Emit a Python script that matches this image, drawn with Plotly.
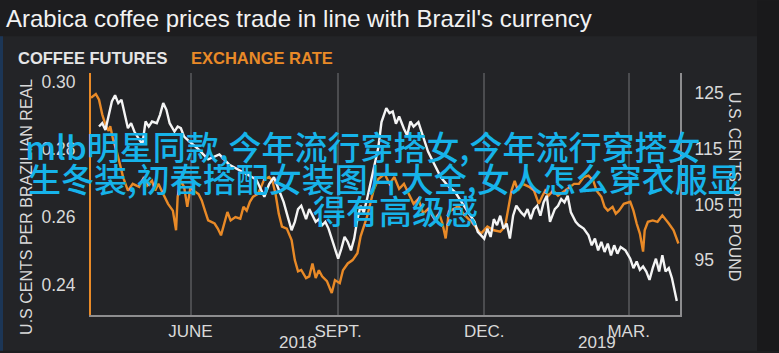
import plotly.graph_objects as go

# ---------------- data ----------------
fx_dates = ["2018-03-31","2018-04-03","2018-04-05","2018-04-07","2018-04-09","2018-04-11","2018-04-12","2018-04-14",
            "2018-04-16","2018-04-18","2018-04-20","2018-04-23","2018-04-26","2018-04-30","2018-05-03","2018-05-05",
            "2018-05-08","2018-05-10","2018-05-12","2018-05-15","2018-05-18","2018-05-21","2018-05-23","2018-05-24",
            "2018-05-26","2018-05-28","2018-05-30","2018-06-01","2018-06-03","2018-06-06","2018-06-08","2018-06-10",
            "2018-06-12","2018-06-16","2018-06-18","2018-06-20","2018-06-22","2018-06-24","2018-06-26","2018-06-29",
            "2018-07-02","2018-07-04","2018-07-06","2018-07-08","2018-07-10","2018-07-13","2018-07-15","2018-07-17",
            "2018-07-20","2018-07-22","2018-07-24","2018-07-26","2018-07-28","2018-07-31","2018-08-03","2018-08-05",
            "2018-08-07","2018-08-09","2018-08-12","2018-08-14","2018-08-16","2018-08-18","2018-08-20","2018-08-22",
            "2018-08-25","2018-08-28","2018-08-30","2018-09-02","2018-09-04","2018-09-07","2018-09-10","2018-09-13",
            "2018-09-15","2018-09-17","2018-09-19","2018-09-21","2018-09-23","2018-09-26","2018-09-30","2018-10-03",
            "2018-10-06","2018-10-09","2018-10-12","2018-10-15","2018-10-18","2018-10-21","2018-10-24","2018-10-27",
            "2018-10-31","2018-11-03","2018-11-05","2018-11-07","2018-11-09","2018-11-12","2018-11-15","2018-11-18",
            "2018-11-21","2018-11-24","2018-11-29","2018-12-03","2018-12-07","2018-12-11","2018-12-14","2018-12-16",
            "2018-12-18","2018-12-20","2018-12-22","2018-12-25","2018-12-29","2019-01-01","2019-01-04","2019-01-06",
            "2019-01-08","2019-01-10","2019-01-13","2019-01-16","2019-01-20","2019-01-23","2019-01-26","2019-01-29",
            "2019-02-01","2019-02-04","2019-02-07","2019-02-09","2019-02-12","2019-02-14","2019-02-16","2019-02-19",
            "2019-02-21","2019-02-23","2019-02-26","2019-03-02","2019-03-04","2019-03-06","2019-03-08","2019-03-10",
            "2019-03-11","2019-03-13","2019-03-16","2019-03-19","2019-03-22","2019-03-26","2019-03-29","2019-04-01"]
fx_values = [0.2952,0.2963,0.2946,0.2903,0.2873,0.2854,0.2868,0.2824,
             0.2795,0.2756,0.2718,0.2678,0.2698,0.2689,0.2718,0.2693,
             0.2707,0.2678,0.2698,0.2668,0.2639,0.2619,0.2561,0.2660,
             0.2707,0.2689,0.2630,0.2689,0.2678,0.2668,0.2649,0.2619,
             0.2590,0.2581,0.2566,0.2546,0.2581,0.2615,0.2590,0.2600,
             0.2595,0.2630,0.2619,0.2645,0.2660,0.2668,0.2689,0.2712,
             0.2718,0.2707,0.2668,0.2610,0.2572,0.2566,0.2532,0.2473,
             0.2440,0.2444,0.2420,0.2425,0.2463,0.2420,0.2443,0.2425,
             0.2411,0.2376,0.2414,0.2405,0.2443,0.2463,0.2473,0.2493,
             0.2543,0.2572,0.2601,0.2639,0.2678,0.2712,0.2727,0.2698,
             0.2718,0.2683,0.2698,0.2668,0.2639,0.2654,0.2610,0.2624,
             0.2595,0.2610,0.2581,0.2537,0.2616,0.2624,0.2633,0.2610,
             0.2595,0.2581,0.2551,0.2572,0.2561,0.2557,0.2572,0.2630,
             0.2678,0.2707,0.2678,0.2698,0.2689,0.2678,0.2639,0.2660,
             0.2678,0.2663,0.2678,0.2663,0.2678,0.2689,0.2698,0.2698,
             0.2718,0.2722,0.2707,0.2678,0.2660,0.2630,0.2619,0.2630,
             0.2610,0.2619,0.2639,0.2645,0.2619,0.2581,0.2551,0.2498,
             0.2561,0.2586,0.2590,0.2586,0.2605,0.2581,0.2561,0.2522]

coffee_dates = ["2018-04-05","2018-04-07","2018-04-09","2018-04-11","2018-04-13","2018-04-15","2018-04-17","2018-04-19",
                "2018-04-21","2018-04-23","2018-04-25","2018-04-27","2018-04-30","2018-05-02","2018-05-04","2018-05-06",
                "2018-05-08","2018-05-11","2018-05-13","2018-05-15","2018-05-17","2018-05-19","2018-05-22","2018-05-24",
                "2018-05-26","2018-05-28","2018-05-31","2018-06-06","2018-06-12","2018-06-19","2018-06-25","2018-07-01",
                "2018-07-07","2018-07-12","2018-07-17","2018-07-20","2018-07-23","2018-07-26","2018-07-29","2018-08-01",
                "2018-08-03","2018-08-05","2018-08-07","2018-08-09","2018-08-12","2018-08-14","2018-08-16","2018-08-18",
                "2018-08-20","2018-08-22","2018-08-24","2018-08-26","2018-08-28","2018-09-01","2018-09-03","2018-09-05",
                "2018-09-07","2018-09-09","2018-09-11","2018-09-13","2018-09-15","2018-09-17","2018-09-19","2018-09-21",
                "2018-09-24","2018-09-26","2018-09-28","2018-10-01","2018-10-03","2018-10-05","2018-10-07","2018-10-09",
                "2018-10-12","2018-10-14","2018-10-16","2018-10-18","2018-10-21","2018-10-23","2018-10-27","2018-10-31",
                "2018-11-04","2018-11-08","2018-11-13","2018-11-17","2018-11-21","2018-11-25","2018-11-27","2018-12-01",
                "2018-12-03","2018-12-05","2018-12-07","2018-12-09","2018-12-11","2018-12-13","2018-12-15","2018-12-17",
                "2018-12-19","2018-12-21","2018-12-24","2018-12-26","2018-12-28","2018-12-30","2019-01-01","2019-01-03",
                "2019-01-05","2019-01-07","2019-01-09","2019-01-11","2019-01-14","2019-01-16","2019-01-18","2019-01-20",
                "2019-01-22","2019-01-24","2019-01-27","2019-01-29","2019-02-01","2019-02-04","2019-02-06","2019-02-08",
                "2019-02-10","2019-02-12","2019-02-14","2019-02-16","2019-02-18","2019-02-20","2019-02-22","2019-02-24",
                "2019-02-27","2019-03-02","2019-03-04","2019-03-06","2019-03-08","2019-03-10","2019-03-12","2019-03-14",
                "2019-03-16","2019-03-18","2019-03-20","2019-03-22","2019-03-24","2019-03-26","2019-03-28","2019-03-31"]
coffee_values = [119.0,119.6,118.4,121.1,123.5,124.6,123.2,123.8,
                 121.1,118.7,119.6,118.1,116.7,115.8,119.9,119.0,
                 119.9,119.6,121.1,123.2,122.0,119.6,118.1,119.0,
                 118.7,117.2,116.4,114.9,113.1,114.0,112.2,111.3,
                 110.4,109.5,106.4,108.7,109.9,107.8,105.5,102.4,
                 100.4,101.9,104.2,104.8,102.4,104.2,103.0,101.9,
                 102.4,101.3,101.9,100.7,98.9,95.3,97.1,99.2,
                 98.3,96.8,98.9,102.4,104.8,103.6,106.0,108.7,
                 112.2,115.2,119.8,122.3,121.4,121.7,119.5,120.8,
                 118.6,117.4,119.9,119.0,119.8,117.9,114.5,112.2,
                 109.9,108.5,107.2,105.4,103.6,101.9,100.1,98.9,
                 100.7,99.2,102.4,101.3,103.0,100.7,101.6,98.9,
                 103.0,104.8,103.6,103.0,104.2,102.4,104.2,104.8,
                 103.0,105.4,106.6,101.9,104.2,104.8,106.0,105.4,
                 106.6,103.6,101.9,101.3,100.7,99.5,97.7,98.9,
                 96.8,98.3,96.5,98.0,95.9,97.7,96.2,97.4,
                 96.8,95.3,93.6,94.8,93.3,93.9,93.0,91.5,
                 93.6,95.3,93.0,95.9,93.0,93.6,91.8,87.7]

month_ticks = ["2018-06-01", "2018-09-01", "2018-12-01", "2019-03-01"]
month_labels = ["JUNE", "SEPT.", "DEC.", "MAR."]
year_ticks = ["2018-08-07", "2019-02-09"]
year_labels = ["2018", "2019"]
left_ticks = [0.24, 0.26, 0.28, 0.30]
left_labels = ["0.24", "0.26", "0.28", "0.30"]
right_ticks = [95, 105, 115, 125]
right_labels = ["95", "105", "115", "125"]

title_text = "Arabica coffee prices trade in line with Brazil's currency"
overlay_lines = ["mlb明星同款,今年流行穿搭女,今年流行穿搭女",
                 "生冬装,初春搭配女装图片大全,女人怎么穿衣服显",
                 "得有高级感"]

# ---------------- style ----------------
W, H = 779, 353
ML, MR, MT, MB = 91, 99, 73, 36
PW, PH = W - ML - MR, H - MT - MB
ORANGE = "#e98a27"
WHITE = "#f4f4f4"
TXT = "#d9d9d9"
FONT = "Liberation Sans, Arial, sans-serif"


def px(x):
    return (x - ML) / PW


def py(y):
    return (H - MB - y) / PH


fig = go.Figure()
fig.add_trace(go.Scatter(x=fx_dates, y=fx_values, mode="lines", name="EXCHANGE RATE",
                         line=dict(color=ORANGE, width=2.4), yaxis="y"))
fig.add_trace(go.Scatter(x=coffee_dates, y=coffee_values, mode="lines", name="COFFEE FUTURES",
                         line=dict(color=WHITE, width=2.4), yaxis="y2"))

annotations = [
    dict(text=title_text, x=px(4), y=py(18), xref="paper", yref="paper", xanchor="left", yanchor="middle",
         showarrow=False, font=dict(family=FONT, size=24, color="#f2f2f2")),
    dict(text="<b>COFFEE FUTURES</b>", x=px(16), y=py(58), xref="paper", yref="paper", xanchor="left",
         yanchor="middle", showarrow=False, font=dict(family=FONT, size=16.5, color="#e6e6e6")),
    dict(text="<b>EXCHANGE RATE</b>", x=px(189), y=py(58), xref="paper", yref="paper", xanchor="left",
         yanchor="middle", showarrow=False, font=dict(family=FONT, size=16.5, color=ORANGE)),
    dict(text="U.S CENTS PER BRAZILIAN REAL", x=px(27), y=py(208), xref="paper", yref="paper",
         xanchor="center", yanchor="middle", textangle=-90, showarrow=False,
         font=dict(family=FONT, size=16, color=TXT)),
    dict(text="U.S. CENTS PER POUND", x=px(735), y=py(187), xref="paper", yref="paper",
         xanchor="center", yanchor="middle", textangle=90, showarrow=False,
         font=dict(family=FONT, size=16, color=TXT)),
]
for d, lab in zip(year_ticks, year_labels):
    annotations.append(dict(text=lab, x=d, y=py(345), xref="x", yref="paper", xanchor="center",
                            yanchor="middle", showarrow=False, font=dict(family=FONT, size=17, color=TXT)))

overlay_pos = [(23, 147), (26, 179), (311, 211)]
for line, (ox, oy) in zip(overlay_lines, overlay_pos):
    annotations.append(dict(text=line, x=px(ox), y=py(oy), xref="paper", yref="paper", xanchor="left",
                            yanchor="middle", showarrow=False,
                            font=dict(family="Noto Sans CJK SC", size=33, color="#16b3ea", weight=500)))

shapes = [
    dict(type="rect", xref="paper", yref="paper", x0=px(0), x1=px(757), y0=py(353), y1=py(36),
         fillcolor="#232427", line=dict(width=0), layer="below"),
    dict(type="rect", xref="paper", yref="paper", x0=px(0), x1=px(3), y0=py(353), y1=py(36),
         fillcolor="#1c3656", line=dict(width=0), layer="below"),
    dict(type="rect", xref="paper", yref="paper", x0=px(757), x1=px(779), y0=py(353), y1=py(0),
         fillcolor="#19191b", line=dict(width=0), layer="below"),
]

fig.update_layout(
    width=W, height=H,
    margin=dict(l=ML, r=MR, t=MT, b=MB, pad=0),
    paper_bgcolor="#1d1d1f",
    plot_bgcolor="#1e1f21",
    showlegend=False,
    font=dict(family=FONT, color=TXT),
    annotations=annotations,
    shapes=shapes,
    xaxis=dict(type="date", range=["2018-03-31", "2019-04-02"],
               tickvals=month_ticks, ticktext=month_labels,
               showgrid=True, gridcolor="#4b4c4f", gridwidth=1.5,
               showline=True, linecolor="#8d8d8f", linewidth=2,
               ticks="", tickfont=dict(family=FONT, size=17, color=TXT),
               zeroline=False, fixedrange=True),
    yaxis=dict(range=[0.2311, 0.3025], tickvals=left_ticks, ticktext=left_labels,
               showgrid=False, zeroline=False,
               showline=True, linecolor=ORANGE, linewidth=2,
               ticks="", ticklabelstandoff=10,
               tickfont=dict(family=FONT, size=17.5, color=TXT)),
    yaxis2=dict(range=[85.2, 128.6], tickvals=right_ticks, ticktext=right_labels,
                overlaying="y", side="right", anchor="x",
                showgrid=False, zeroline=False,
                showline=True, linecolor="#8d8d8f", linewidth=2,
                ticks="", ticklabelstandoff=9,
                tickfont=dict(family=FONT, size=17.5, color=TXT)),
)

fig.write_html("out.html")
